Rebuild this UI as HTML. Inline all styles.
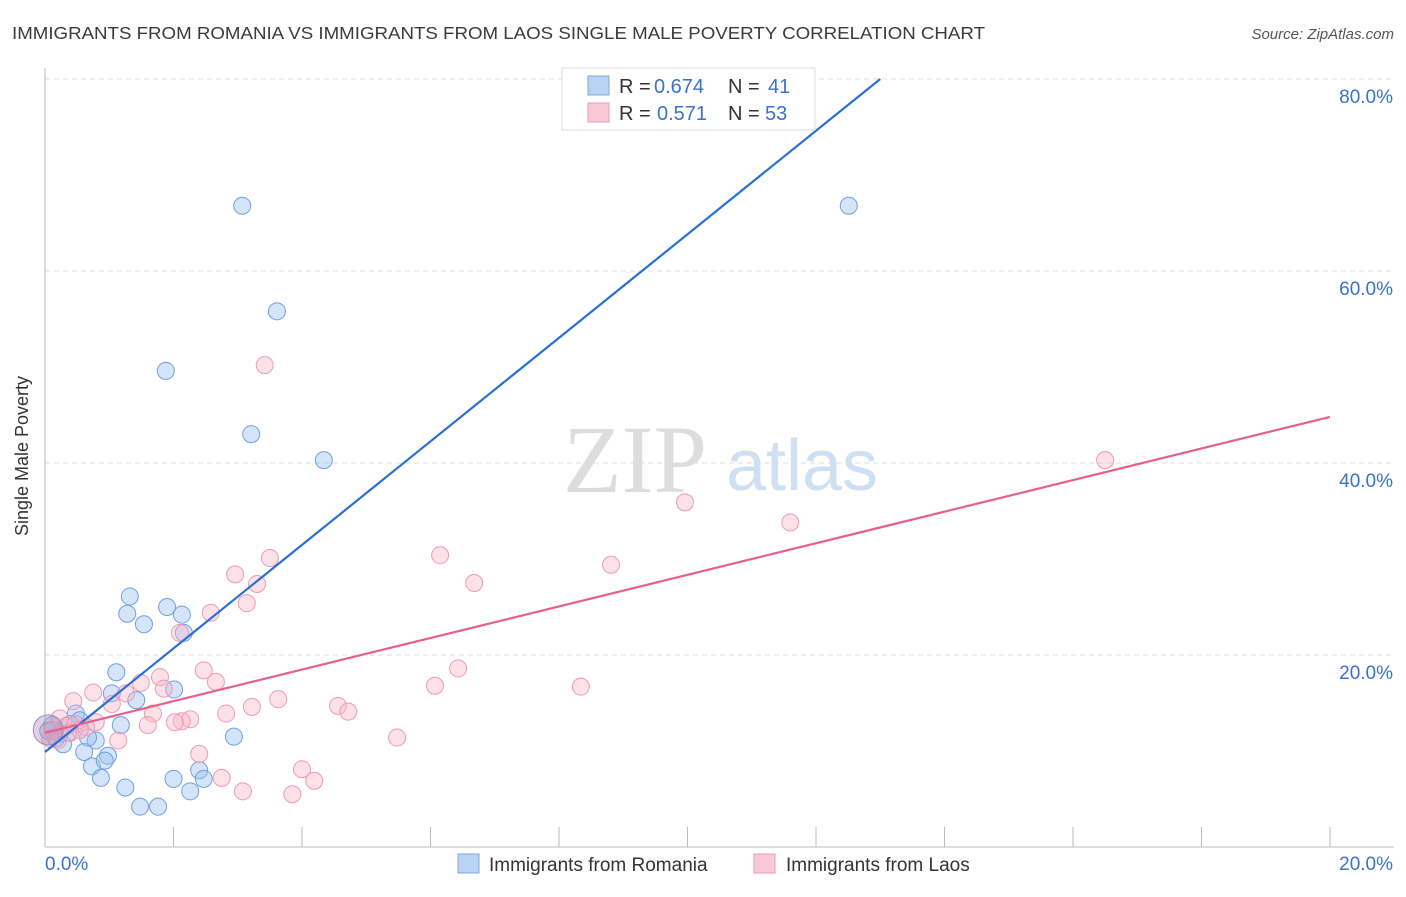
<!DOCTYPE html>
<html><head><meta charset="utf-8"><style>
body{margin:0;background:#fff;font-family:"Liberation Sans",sans-serif}
</style></head><body>
<svg width="1406" height="892" xmlns="http://www.w3.org/2000/svg">
<text x="12" y="39" font-size="17.5" fill="#3a3a3a" textLength="973" lengthAdjust="spacingAndGlyphs">IMMIGRANTS FROM ROMANIA VS IMMIGRANTS FROM LAOS SINGLE MALE POVERTY CORRELATION CHART</text>
<text x="1394" y="39" font-size="15" fill="#555" font-style="italic" text-anchor="end">Source: ZipAtlas.com</text>
<g id="grid"></g>
<text x="635" y="492" font-size="96" fill="#ddd" font-family="Liberation Serif,serif" text-anchor="middle">ZIP</text>
<text x="802" y="490" font-size="72" fill="#cfe0f3" text-anchor="middle">atlas</text>
<g id="pts"></g>
<g id="lines"></g>
<text x="28" y="456" font-size="18" fill="#333" text-anchor="middle" transform="rotate(-90 28 456)">Single Male Poverty</text>
<g>
<rect x="562" y="68" width="253" height="62" fill="#fff" stroke="#ddd"/>
<rect x="588" y="76" width="21" height="19" fill="#b9d3f3" stroke="#7aa8e0"/>
<rect x="588" y="103" width="21" height="19" fill="#f9c9d7" stroke="#ee9ab3"/>
<text y="93" font-size="20" fill="#333"><tspan x="619">R =</tspan><tspan x="654" fill="#3a72c8">0.674</tspan><tspan x="728">N =</tspan><tspan x="768" fill="#3a72c8">41</tspan></text>
<text y="120" font-size="20" fill="#333"><tspan x="619">R =</tspan><tspan x="657" fill="#3a72c8">0.571</tspan><tspan x="728">N =</tspan><tspan x="765" fill="#3a72c8">53</tspan></text>
</g>
<g>
<rect x="458" y="854" width="21" height="19" fill="#b9d3f3" stroke="#7aa8e0"/>
<text x="489" y="871" font-size="19" fill="#333">Immigrants from Romania</text>
<rect x="754" y="854" width="21" height="19" fill="#f9c9d7" stroke="#ee9ab3"/>
<text x="786" y="871" font-size="19" fill="#333">Immigrants from Laos</text>
</g>
</svg>
<script>
const xTicks=[0,2,4,6,8,10,12,14,16,18,20];
const yTicks=[20,40,60,80];
const blueX=[3.07,12.51,3.61,1.88,3.21,4.34,1.32,1.28,1.54,1.90,2.13,2.16,1.11,2.01,1.04,1.42,1.18,2.94,0.48,0.54,0.28,0.36,0.79,0.61,0.98,0.73,0.93,0.87,1.25,1.48,1.76,2.00,2.26,2.40,2.47,0.11,0.05,0.17,0.39,0.23,0.67];
const blueY=[66.8,66.8,55.8,49.6,43.0,40.3,26.1,24.3,23.2,25.0,24.2,22.3,18.2,16.4,16.0,15.3,12.7,11.5,13.9,13.2,10.7,11.9,11.1,9.9,9.5,8.4,9.0,7.2,6.2,4.2,4.2,7.1,5.8,8.0,7.1,12.7,12.1,11.3,12.8,11.8,11.4];
const pinkX=[3.42,16.5,9.96,11.6,6.15,3.50,2.96,6.68,3.30,8.81,3.14,2.58,2.10,2.47,1.79,2.66,1.49,6.43,6.07,8.34,1.85,0.75,1.26,0.44,3.63,1.04,4.56,4.72,3.22,2.82,1.68,2.26,2.13,2.02,1.60,0.79,0.64,1.14,5.48,2.40,2.75,3.08,4.00,4.19,3.85,0.23,0.33,0.11,0.20,0.08,0.47,0.54,0.39];
const pinkY=[50.2,40.3,35.9,33.8,30.4,30.1,28.4,27.5,27.4,29.4,25.4,24.4,22.3,18.4,17.7,17.2,17.1,18.6,16.8,16.7,16.5,16.1,16.0,15.2,15.4,14.9,14.7,14.1,14.6,13.9,13.9,13.3,13.1,13.0,12.7,13.0,12.5,11.1,11.4,9.7,7.2,5.8,8.1,6.9,5.5,13.4,12.6,12.2,11.1,11.3,12.8,12.2,11.9];
const blueLine=[[0,9.9],[13.0,80]];
const pinkLine=[[0,11.9],[20,44.8]];
const X=v=>45+v*64.25, Y=v=>847-v*9.6;
const NS="http://www.w3.org/2000/svg";
function mk(tag,attrs,parent){const e=document.createElementNS(NS,tag);for(const k in attrs)e.setAttribute(k,attrs[k]);parent.appendChild(e);return e;}
const grid=document.getElementById('grid');
yTicks.forEach(t=>{
 const l=mk('line',{x1:45,x2:1394,y1:Y(t),y2:Y(t),stroke:'#ddd','stroke-dasharray':'5,4'},grid);
 
 
 const tx=mk('text',{x:1393,y:Y(t)+24,'font-size':19,fill:'#3a72c8','text-anchor':'end'},grid);
 tx.textContent=t.toFixed(1)+'%';
 
 
});
const ax=mk('line',{x1:45,x2:45,y1:68,y2:847,stroke:'#bbb'},grid);


const bx=mk('line',{x1:45,x2:1394,y1:847,y2:847,stroke:'#bbb'},grid);


xTicks.forEach(t=>{
 const l=mk('line',{x1:X(t),x2:X(t),y1:827,y2:847,stroke:'#bbb'},grid);
 
 
});
[[0,'start',45],[20,'end',1393]].forEach(([t,a,px])=>{
 const tx=mk('text',{x:px,y:870,'font-size':19,fill:'#3a72c8','text-anchor':a},grid);
 tx.textContent=t.toFixed(1)+'%';
 
 
});
const pts=document.getElementById('pts');
blueX.forEach((v,i)=>{
 const c=mk('circle',{cx:X(v),cy:Y(blueY[i]),r:8.5,fill:'rgba(150,190,240,0.4)',stroke:'#6fa0e0','stroke-width':1},pts);
 
 
});
pinkX.forEach((v,i)=>{
 const c=mk('circle',{cx:X(v),cy:Y(pinkY[i]),r:8.5,fill:'rgba(248,180,200,0.4)',stroke:'#ee9ab3','stroke-width':1},pts);
 
 
});
const big=mk('circle',{cx:X(0.05),cy:Y(12.2),r:15,fill:'rgba(170,140,185,0.4)',stroke:'#a58ab8'},pts);


const lines=document.getElementById('lines');
const bl=mk('line',{x1:X(blueLine[0][0]),y1:Y(blueLine[0][1]),x2:X(blueLine[1][0]),y2:Y(blueLine[1][1]),stroke:'#2a6fd6','stroke-width':2.2},lines);


const pl=mk('line',{x1:X(pinkLine[0][0]),y1:Y(pinkLine[0][1]),x2:X(pinkLine[1][0]),y2:Y(pinkLine[1][1]),stroke:'#e8608a','stroke-width':2.2},lines);


</script>
</body></html>
